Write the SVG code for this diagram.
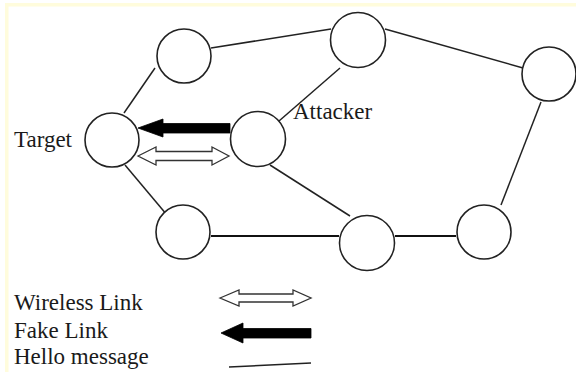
<svg xmlns="http://www.w3.org/2000/svg" width="576" height="372" viewBox="0 0 576 372">
  <style>
    .node { fill: #ffffff; stroke: #222222; stroke-width: 1.6; }
    .link { stroke: #222222; stroke-width: 1.5; fill: none; }
    .link-thick { stroke: #111111; stroke-width: 2.2; fill: none; }
    .hollow { fill: #ffffff; stroke: #333333; stroke-width: 1.3; stroke-linejoin: miter; }
    .solid { fill: #000000; stroke: #000000; stroke-width: 0.8; }
    .label { font-family: "Liberation Serif", "Times New Roman", serif; font-size: 23px; fill: #1a1a1a; }
  </style>

  <!-- page background with pale frame edge -->
  <rect x="0" y="0" width="576" height="372" fill="#ffffff"/>
  <rect x="5" y="3" width="571" height="3.5" fill="#fffcdc"/>
  <rect x="5" y="3" width="3.5" height="369" fill="#fffcdc"/>

  <!-- network links -->
  <g id="connectors">
    <line class="link" x1="211" y1="48" x2="331" y2="29"/>
    <line class="link" x1="385" y1="29" x2="523" y2="68"/>
    <line class="link" x1="155" y1="68" x2="124" y2="113"/>
    <line class="link" x1="340" y1="68" x2="279" y2="121"/>
    <line class="link" x1="541" y1="102" x2="501" y2="205"/>
    <line class="link" x1="125" y1="165" x2="167" y2="215"/>
    <line class="link" x1="270" y1="165" x2="350" y2="216"/>
    <line class="link-thick" x1="211" y1="236" x2="339" y2="236"/>
    <line class="link-thick" x1="395" y1="236" x2="456" y2="236"/>
    <!-- fake link from attacker to target -->
    <path class="solid" d="M138,128 L163,119 L163,123.5 L230,123.5 L230,133 L163,133 L163,137 Z"/>
    <!-- wireless link between target and attacker -->
    <path class="hollow" d="M138,156 L156,147 L156,151.5 L212,151.5 L212,147 L229,156 L212,165 L212,160.5 L156,160.5 L156,165 Z"/>
  </g>

  <!-- nodes -->
  <g id="node-top-left"><circle class="node" cx="184" cy="56" r="27"/></g>
  <g id="node-top-mid"><circle class="node" cx="358" cy="40" r="27.5"/></g>
  <g id="node-right"><circle class="node" cx="549" cy="74" r="27"/></g>
  <g id="node-target">
    <circle class="node" cx="112" cy="140" r="27"/>
    <text class="label" x="14" y="147">Target</text>
  </g>
  <g id="node-attacker">
    <circle class="node" cx="258" cy="139" r="27.5"/>
    <text class="label" x="293" y="119">Attacker</text>
  </g>
  <g id="node-bottom-left"><circle class="node" cx="183" cy="232" r="27"/></g>
  <g id="node-bottom-mid"><circle class="node" cx="367" cy="243" r="27.5"/></g>
  <g id="node-bottom-right"><circle class="node" cx="484" cy="232" r="27"/></g>

  <!-- legend -->
  <g id="legend">
    <text class="label" x="14" y="310">Wireless Link</text>
    <text class="label" x="14" y="338">Fake Link</text>
    <text class="label" x="14" y="364">Hello message</text>
    <path class="hollow" d="M220,298 L239,290 L239,294 L293,294 L293,290 L311,298 L293,306 L293,302 L239,302 L239,306 Z"/>
    <path class="solid" d="M221,333 L243,323 L243,328.5 L311,328.5 L311,338 L243,338 L243,343 Z"/>
    <line class="link" x1="229" y1="367" x2="311" y2="363"/>
  </g>
</svg>
